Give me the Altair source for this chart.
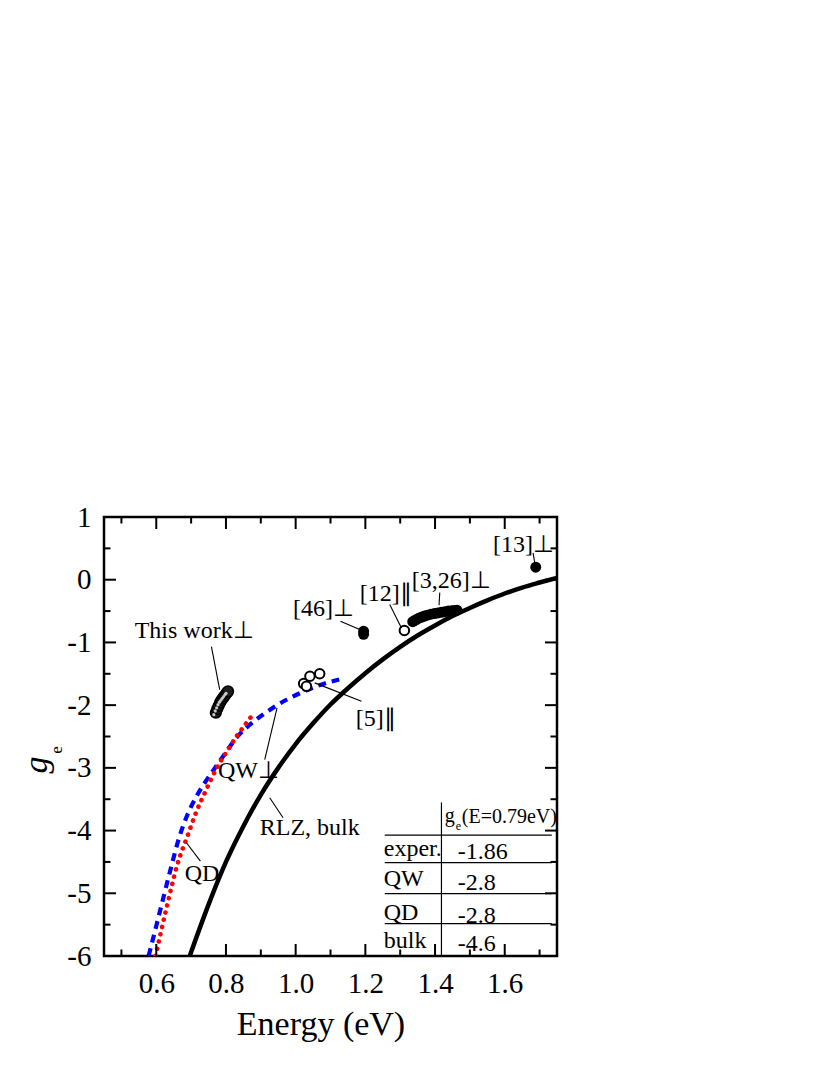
import altair as alt
import pandas as pd

# ---------------- data ----------------
bulk_E = [0.696, 0.75, 0.80, 0.85, 0.90, 0.95, 1.00, 1.05, 1.10, 1.15, 1.20, 1.25,
          1.30, 1.35, 1.40, 1.45, 1.50, 1.55, 1.60, 1.65, 1.70, 1.75]
bulk_g = [-6.0, -5.18, -4.50, -3.93, -3.43, -3.00, -2.62, -2.29, -1.99, -1.73, -1.49, -1.27,
          -1.07, -0.89, -0.73, -0.58, -0.45, -0.33, -0.22, -0.125, -0.045, 0.03]

qw_E = [0.578, 0.60, 0.62, 0.64, 0.667, 0.69, 0.715, 0.74, 0.765, 0.79, 0.83, 0.88, 0.93,
        0.975, 1.02, 1.075, 1.125]
qw_g = [-6.0, -5.52, -5.08, -4.64, -4.09, -3.74, -3.46, -3.23, -3.03, -2.83, -2.52, -2.26, -2.06,
        -1.91, -1.79, -1.67, -1.59]

qd_E = [0.598, 0.63, 0.66, 0.69, 0.715, 0.74, 0.76, 0.78, 0.806, 0.83, 0.85, 0.866, 0.883]
qd_g = [-6.0, -5.22, -4.55, -4.08, -3.70, -3.39, -3.15, -2.94, -2.71, -2.50, -2.35, -2.23, -2.11]

this_E = [0.771, 0.775, 0.779, 0.783, 0.787, 0.791, 0.795, 0.799, 0.803, 0.806]
this_g = [-2.12, -2.06, -2.01, -1.96, -1.92, -1.89, -1.86, -1.83, -1.80, -1.78]

ref5_E = [1.023, 1.031, 1.041, 1.069]
ref5_g = [-1.656, -1.70, -1.54, -1.50]

ref12_E = [1.312]
ref12_g = [-0.81]

ref3_26_E = [1.336, 1.342, 1.348, 1.355, 1.362, 1.370, 1.378, 1.388, 1.398, 1.408, 1.418,
             1.428, 1.438, 1.448, 1.456, 1.463]
ref3_26_g = [-0.67, -0.65, -0.63, -0.61, -0.595, -0.58, -0.565, -0.55, -0.54, -0.53, -0.52,
             -0.51, -0.50, -0.495, -0.49, -0.485]

ref46_E = [1.195, 1.195]
ref46_g = [-0.82, -0.87]

ref13_E = [1.689]
ref13_g = [0.20]

x_major = [0.6, 0.8, 1.0, 1.2, 1.4, 1.6]
x_minor = [0.5, 0.7, 0.9, 1.1, 1.3, 1.5, 1.7]
y_major = [-6, -5, -4, -3, -2, -1, 0, 1]
y_minor = [-5.5, -4.5, -3.5, -2.5, -1.5, -0.5, 0.5]

# annotation labels (text, E, g of left/baseline)
ann_text = ["This work\u22a5", "[46]\u22a5", "[12]\u2225", "[3,26]\u22a5", "[13]\u22a5",
            "[5]\u2225", "QW\u22a5", "QD", "RLZ, bulk"]
ann_E = [0.538, 0.9925, 1.184, 1.333, 1.5665, 1.1725, 0.777, 0.6816, 0.897]
ann_g = [-0.923, -0.584, -0.334, -0.126, 0.447, -2.336, -3.158, -4.805, -4.077]

# leader lines
lead_E1 = [0.7583, 1.1285, 1.270, 1.4135, 1.6813, 1.0548, 0.9113, 0.6865, 0.9256]
lead_g1 = [-1.066, -0.663, -0.397, -0.206, 0.4265, -1.645, -2.867, -4.194, -3.477]
lead_E2 = [0.782, 1.184, 1.3036, 1.4115, 1.6862, 1.1888, 0.9466, 0.7267, 0.9638]
lead_g2 = [-1.751, -0.795, -0.768, -0.405, 0.267, -1.938, -2.043, -4.487, -3.795]

# inset table
tab_rows = ["exper.", "QW", "QD", "bulk"]
tab_vals = ["-1.86", "-2.8", "-2.8", "-4.6"]
tab_row_g = [-4.407, -4.885, -5.427, -5.866]
tab_val_g = [-4.46, -4.949, -5.468, -5.921]
tab_hline_g = [-4.072, -4.512, -5.006, -5.484]

# ---------------- chart ----------------
W, H = 453, 439
FONT = "Liberation Serif"

xs = alt.Scale(domain=[0.45, 1.75], nice=False, zero=False)
ys = alt.Scale(domain=[-6, 1], nice=False, zero=False)
xaxis = alt.Axis(values=x_major, labelExpr="format(datum.value, '.1f')", ticks=False,
                 tickSize=0, domain=False, grid=False, labelFont=FONT, labelFontSize=29,
                 labelColor="black", labelPadding=13, title=None)
yaxis = alt.Axis(values=y_major, labelExpr="'' + datum.value", ticks=False, tickSize=0,
                 domain=False, grid=False, labelFont=FONT, labelFontSize=29,
                 labelColor="black", labelPadding=13, title=None)


def X(f):
    return alt.X(f, type="quantitative", scale=xs, axis=xaxis)


def Y(f):
    return alt.Y(f, type="quantitative", scale=ys, axis=yaxis)


def df2(E, g):
    return pd.DataFrame({"E": E, "g": g})


layers = []

# table lines
layers.append(
    alt.Chart(pd.DataFrame({"g": tab_hline_g, "E1": [1.2557] * 4, "E2": [1.735] * 4}))
    .mark_rule(color="black", strokeWidth=1.2)
    .encode(x=X("E1"), x2="E2", y=Y("g"))
)
layers.append(
    alt.Chart(pd.DataFrame({"E": [1.4184], "g1": [-3.552], "g2": [-6.0]}))
    .mark_rule(color="black", strokeWidth=1.2)
    .encode(x=X("E"), y=Y("g1"), y2="g2")
)

# curves
layers.append(alt.Chart(df2(bulk_E, bulk_g)).mark_line(
    color="black", strokeWidth=4.5, interpolate="monotone", clip=True
).encode(x=X("E"), y=Y("g")))
layers.append(alt.Chart(df2(qw_E, qw_g)).mark_line(
    color="#0000ff", strokeWidth=4.2, strokeDash=[8, 6], interpolate="monotone", clip=True
).encode(x=X("E"), y=Y("g")))
layers.append(alt.Chart(df2(qd_E, qd_g)).mark_line(
    color="#ff0000", strokeWidth=4.6, strokeDash=[0.1, 7.3], strokeCap="round",
    interpolate="monotone", clip=True
).encode(x=X("E"), y=Y("g")))

# markers
layers.append(alt.Chart(df2(this_E, this_g)).mark_point(
    shape="circle", filled=True, size=115, fill="#1e1e1e", stroke="black", strokeWidth=1.5,
    opacity=1
).encode(x=X("E"), y=Y("g")))
layers.append(alt.Chart(df2(this_E, this_g)).mark_point(
    shape="circle", filled=True, size=10, fill="#c8c8c8", opacity=1, xOffset=-2, yOffset=2
).encode(x=X("E"), y=Y("g")))

for E, g in [(ref3_26_E, ref3_26_g), (ref46_E, ref46_g), (ref13_E, ref13_g)]:
    layers.append(alt.Chart(df2(E, g)).mark_point(
        shape="circle", filled=True, size=120, color="black", opacity=1
    ).encode(x=X("E"), y=Y("g")))

for E, g in [(ref5_E, ref5_g), (ref12_E, ref12_g)]:
    layers.append(alt.Chart(df2(E, g)).mark_point(
        shape="circle", filled=False, size=90, stroke="black", fill="white",
        fillOpacity=1, strokeWidth=2, opacity=1
    ).encode(x=X("E"), y=Y("g")))

# leader lines
layers.append(
    alt.Chart(pd.DataFrame({"E1": lead_E1, "g1": lead_g1, "E2": lead_E2, "g2": lead_g2}))
    .mark_rule(color="black", strokeWidth=1.1)
    .encode(x=X("E1"), y=Y("g1"), x2="E2", y2="g2")
)

# annotation text
layers.append(
    alt.Chart(pd.DataFrame({"E": ann_E, "g": ann_g, "t": ann_text}))
    .mark_text(align="left", baseline="alphabetic", font=FONT, fontSize=24, color="black")
    .encode(x=X("E"), y=Y("g"), text="t:N")
)

# table text
layers.append(
    alt.Chart(pd.DataFrame({"E": [1.2528] * 4, "g": tab_row_g, "t": tab_rows}))
    .mark_text(align="left", baseline="alphabetic", font=FONT, fontSize=24, color="black")
    .encode(x=X("E"), y=Y("g"), text="t:N")
)
layers.append(
    alt.Chart(pd.DataFrame({"E": [1.4652] * 4, "g": tab_val_g, "t": tab_vals}))
    .mark_text(align="left", baseline="alphabetic", font=FONT, fontSize=24, color="black")
    .encode(x=X("E"), y=Y("g"), text="t:N")
)
layers.append(
    alt.Chart(pd.DataFrame({"E": [1.4279, 1.4769], "g": [-3.871, -3.875],
                            "t": ["g", "(E=0.79eV)"]}))
    .mark_text(align="left", baseline="alphabetic", font=FONT, fontSize=20, color="black")
    .encode(x=X("E"), y=Y("g"), text="t:N")
)
layers.append(
    alt.Chart(pd.DataFrame({"E": [1.4597], "g": [-3.993], "t": ["e"]}))
    .mark_text(align="left", baseline="alphabetic", font=FONT, fontSize=12, color="black")
    .encode(x=X("E"), y=Y("g"), text="t:N")
)

# inward ticks on all four sides
for vals, L in [(x_major, 12), (x_minor, 6.5)]:
    d = pd.DataFrame({"v": vals})
    layers.append(alt.Chart(d).mark_rule(color="black", strokeWidth=2).encode(
        x=X("v"), y=alt.value(H), y2=alt.value(H - L)))
    layers.append(alt.Chart(d).mark_rule(color="black", strokeWidth=2).encode(
        x=X("v"), y=alt.value(0), y2=alt.value(L)))
for vals, L in [(y_major, 12), (y_minor, 6.5)]:
    d = pd.DataFrame({"v": vals})
    layers.append(alt.Chart(d).mark_rule(color="black", strokeWidth=2).encode(
        y=Y("v"), x=alt.value(0), x2=alt.value(L)))
    layers.append(alt.Chart(d).mark_rule(color="black", strokeWidth=2).encode(
        y=Y("v"), x=alt.value(W), x2=alt.value(W - L)))

# axis titles
layers.append(
    alt.Chart(pd.DataFrame({"t": ["Energy (eV)"]}))
    .mark_text(align="center", baseline="alphabetic", font=FONT, fontSize=34, color="black")
    .encode(x=alt.value(217), y=alt.value(518), text="t:N")
)
layers.append(
    alt.Chart(pd.DataFrame({"t": ["g"]}))
    .mark_text(align="center", baseline="alphabetic", font=FONT, fontSize=34,
               fontStyle="italic", angle=270, color="black")
    .encode(x=alt.value(-57), y=alt.value(248), text="t:N")
)
layers.append(
    alt.Chart(pd.DataFrame({"t": ["e"]}))
    .mark_text(align="center", baseline="alphabetic", font=FONT, fontSize=17,
               angle=270, color="black")
    .encode(x=alt.value(-42), y=alt.value(233), text="t:N")
)

chart = (
    alt.layer(*layers)
    .properties(
        width=W, height=H,
        autosize=alt.AutoSizeParams(type="none"),
        padding={"left": 96, "top": 509, "right": 20, "bottom": 100},
    )
    .configure_view(stroke="black", strokeWidth=2.5)
)

chart.save("out.html", embed_options={"renderer": "svg", "actions": False})
